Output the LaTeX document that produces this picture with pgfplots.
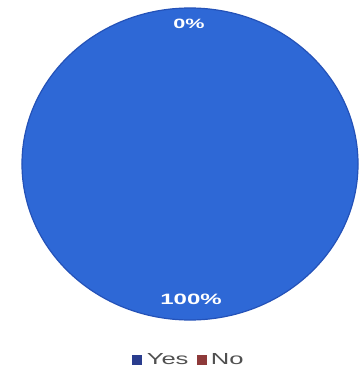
\documentclass[border=0pt]{standalone}
\usepackage{fontspec}
\setmainfont{Liberation Sans}
\newfontfamily\wide{Liberation Sans}[FakeStretch=1.6]
\usepackage{pgfplots}
\pgfplotsset{compat=1.18}
\definecolor{pieblue}{HTML}{2E68D6}
\definecolor{edgeblue}{HTML}{2452B8}
\definecolor{legblue}{HTML}{2A3D8E}
\definecolor{legred}{HTML}{8E3A3A}
\definecolor{txtgray}{HTML}{505050}
\begin{document}
\begin{tikzpicture}
\begin{axis}[
  scale only axis, width=358pt, height=374pt,
  xmin=0, xmax=358, ymin=0, ymax=374, y dir=reverse,
  hide axis, clip=false,
  legend columns=2,
  legend style={at={(axis cs:189,360)}, anchor=center, draw=none, fill=none,
    font=\wide\fontsize{16}{18}\selectfont, text=txtgray,
    /tikz/every even column/.append style={column sep=6pt}},
  legend cell align=left,
]
\path (rel axis cs:0,0) rectangle (rel axis cs:1,1);
% Pie: Yes = 100%, No = 0% (full disc)
\addplot[only marks, mark=*, mark size=156pt,
  mark options={xscale=1.077, fill=pieblue, draw=edgeblue, line width=1.2pt},
  forget plot] coordinates {(190,164)};
\addlegendimage{legend image code/.code={\fill[legblue] (0pt,-4.5pt) rectangle (9pt,4.5pt); \path (12pt,0pt);}}
\addlegendentry{Yes}
\addlegendimage{legend image code/.code={\fill[legred] (0pt,-4.5pt) rectangle (9pt,4.5pt); \path (12pt,0pt);}}
\addlegendentry{No}
\coordinate (lab0) at (axis cs:189,24);
\coordinate (lab100) at (axis cs:191,299);
\end{axis}
\node[text=white, font=\wide\bfseries\fontsize{13.5}{15}\selectfont] at (lab0) {0\%};
\node[text=white, font=\wide\bfseries\fontsize{15}{17}\selectfont] at (lab100) {100\%};
\end{tikzpicture}
\end{document}
